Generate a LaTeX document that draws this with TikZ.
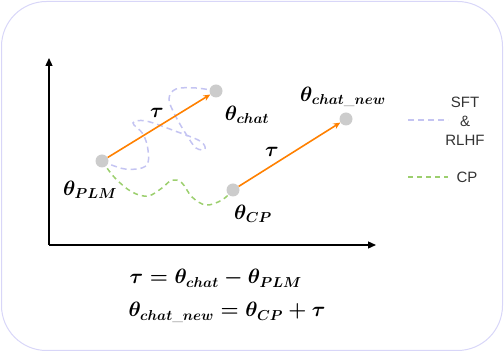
\documentclass[tikz,border=0pt]{standalone}
\usepackage{fontspec}
\usepackage{amsmath}
\newfontfamily\legfont{Liberation Sans}
\usetikzlibrary{positioning,arrows.meta,backgrounds}

\definecolor{vecorange}{HTML}{FF8000}
\definecolor{ptgray}{HTML}{CCCCCC}
\definecolor{sftblue}{HTML}{C4C4F2}
\definecolor{cpgreen}{HTML}{9CCF6E}
\definecolor{frameline}{HTML}{D8D6F8}

\begin{document}
\begin{tikzpicture}[
  x=1pt, y=-1pt,
  font=\fontsize{22}{26}\selectfont\boldmath,
  pt/.style={circle, fill=ptgray, minimum size=13pt, inner sep=0pt},
  vec/.style={-{Stealth[length=7pt,width=6pt]}, draw=vecorange, line width=1.6pt},
  axis/.style={-{Triangle[length=8pt,width=7pt]}, draw=black, line width=1.3pt},
  sft/.style={draw=sftblue, line width=1.5pt, dash pattern=on 6pt off 4pt},
  cp/.style={draw=cpgreen, line width=1.5pt, dash pattern=on 5pt off 4pt},
  leg/.style={font=\fontsize{15}{19}\selectfont\legfont, text=black!80, align=center}
]
\useasboundingbox (0,0) rectangle (504,352);
\draw[frameline, line width=1pt, rounded corners=45pt] (1.5,1.5) rectangle (502.5,350.5);

% axes
\coordinate (o) at (49,245);
\coordinate (ytip) at (49,58);
\coordinate (xtip) at (376,245);
\draw[axis] (o) -- (ytip);
\draw[axis] (o) -- (xtip);

% parameter points
\node[pt] (plm) at (102,161) {};
\node[pt] (chat) at (216,91) {};
\node[pt] (cp) at (233,190) {};
\node[pt] (new) at (346,119) {};

\node (lplm) at (90,190) {$\theta_{PLM}$};
\node (lchat) at (247,115) {$\theta_{chat}$};
\node (lcp) at (253,214) {$\theta_{CP}$};
\node (lnew) at (343,97) {$\theta_{chat\_new}$};

% training paths
\begin{scope}[on background layer]
\draw[sft] plot[smooth, tension=0.6] coordinates {(plm.center) (125,169) (146,166) (148,150)
  (143,134) (133,123) (146,121) (175,131) (200,141) (205,149) (196,148) (186,134)
  (175,115) (169,99) (176,89) (196,88) (chat.center)};
\draw[cp] plot[smooth, tension=0.6] coordinates {(plm.center) (115,178) (132,192) (148,196)
  (162,188) (172,180) (182,183) (192,197) (206,205) (222,200) (cp.center)};
\end{scope}

% task vectors
\draw[vec] (plm) -- (chat) node (tau1) at (157,113) {$\tau$};
\draw[vec] (cp) -- (new) node (tau2) at (272,152) {$\tau$};

% legend
\coordinate (sfta) at (408,120);
\coordinate (sftb) at (448,120);
\coordinate (cpa) at (408,177);
\coordinate (cpb) at (448,177);
\draw[sft] (sfta) -- (sftb);
\draw[cp] (cpa) -- (cpb);
\node[leg] (lsft) at (465,121) {SFT\\\&\\RLHF};
\node[leg] (lcpl) at (467,177) {CP};

% equations
\node[anchor=base west] (eq1) at (126,284) {$\tau=\theta_{chat}-\theta_{PLM}$};
\node[anchor=base west] (eq2) at (125,317) {$\theta_{chat\_new}=\theta_{CP}+\tau$};
\end{tikzpicture}
\end{document}
